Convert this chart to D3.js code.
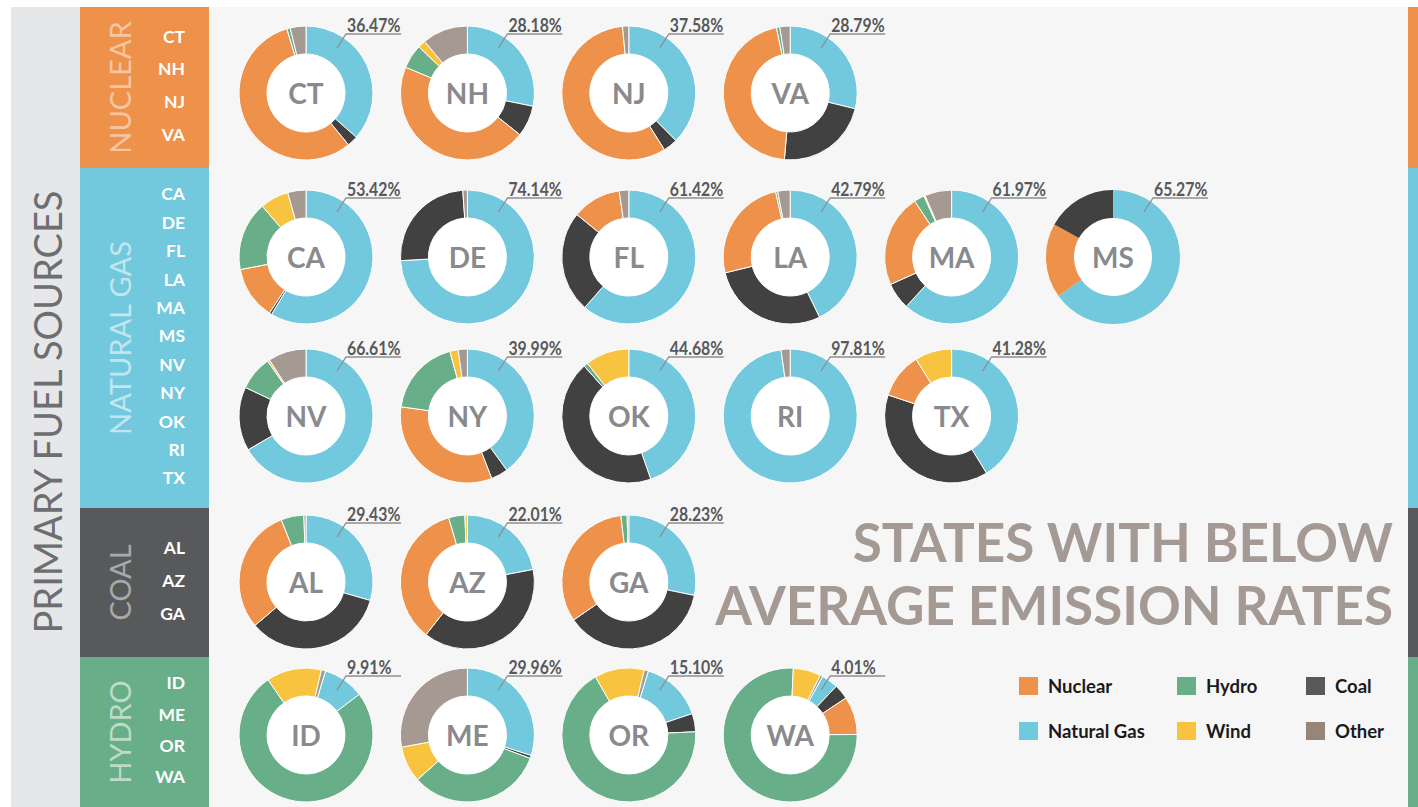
<!DOCTYPE html>
<html>
<head>
<meta charset="utf-8">
<script src="https://cdn.jsdelivr.net/npm/d3@7"></script>
<style>
  body { margin: 0; background: #fff; }
  svg { display: block; }
</style>
</head>
<body>
<div id="chart"></div>
<script>
// one entry per state, in drawing order
const states     = ['CT','NH','NJ','VA','CA','DE','FL','LA','MA','MS','NV','NY','OK','RI','TX','AL','AZ','GA','ID','ME','OR','WA'];
const primary    = ['Nuclear','Nuclear','Nuclear','Nuclear',
                    'Natural Gas','Natural Gas','Natural Gas','Natural Gas','Natural Gas','Natural Gas',
                    'Natural Gas','Natural Gas','Natural Gas','Natural Gas','Natural Gas',
                    'Coal','Coal','Coal','Hydro','Hydro','Hydro','Hydro'];
const gasLabel   = [36.47, 28.18, 37.58, 28.79, 53.42, 74.14, 61.42, 42.79, 61.97, 65.27, 66.61, 39.99, 44.68, 97.81, 41.28, 29.43, 22.01, 28.23, 9.91, 29.96, 15.10, 4.01];

// generation mix (%)
const naturalGas = [36.47, 28.18, 37.58, 28.79, 58.6, 74.14, 61.42, 42.79, 61.97, 65.27, 66.61, 39.99, 44.68, 97.81, 41.28, 29.43, 22.01, 28.23, 9.91, 29.96, 15.10, 4.01];
const coal       = [2.6, 7.5, 3.5, 22.6, 0.6, 24.76, 24.5, 28.4, 6.5, 17, 15.4, 4.1, 43.7, 0, 38.8, 34.3, 38.6, 37.2, 0, 0.7, 4.4, 3.6];
const nuclear    = [56.3, 45.6, 57.4, 45.3, 12.8, 0, 11.8, 25.3, 22.5, 18, 0, 33.1, 0, 0, 11, 30.2, 34.9, 32.7, 0, 0, 0, 9.2];
const hydro      = [0.8, 5.8, 0, 0.8, 16.7, 0, 0, 0.5, 2.5, 0, 8.3, 18.6, 1.0, 0, 0, 5.5, 3.9, 1.5, 75.8, 32.7, 67.5, 75.8];
const wind       = [0, 1.9, 0, 0, 6.9, 0, 0, 0, 0.3, 0, 0.5, 2.0, 10.6, 0, 8.9, 0, 0.6, 0, 13.3, 8.7, 12, 6.7];
const other      = [3.8, 11, 1.5, 2.5, 4.4, 1.1, 2.3, 3, 6.5, 0, 9.2, 2.2, 0, 2.19, 0, 0.5, 0, 0.4, 1.0, 27.9, 1.0, 0.6];
const rotation   = [0, 0, 0, 0, 0, 0, 0, 0, 0, 0, 0, 0, 0, 0, 0, 0, 0, 0, 17, 0, 17, 29]; // degrees

const groups = ['Nuclear', 'Natural Gas', 'Coal', 'Hydro'];
const rows = [
  ['CT','NH','NJ','VA'],
  ['CA','DE','FL','LA','MA','MS'],
  ['NV','NY','OK','RI','TX'],
  ['AL','AZ','GA'],
  ['ID','ME','OR','WA']
];

const fuelOrder = ['Natural Gas', 'Coal', 'Nuclear', 'Hydro', 'Wind', 'Other'];
const orderOverride = { MS: ['Natural Gas', 'Nuclear', 'Coal', 'Hydro', 'Wind', 'Other'] };
const legendCols = [['Nuclear', 'Natural Gas'], ['Hydro', 'Wind'], ['Coal', 'Other']];

const width = 1418;
const height = 807;
const bandTop = [7, 168, 508, 657];
const bandBottom = [168, 508, 657, 807];
const rowY = [93, 257, 416, 582, 735];
const outerR = 67;
const innerR = 39;

const color = d3.scaleOrdinal()
  .domain(['Nuclear', 'Natural Gas', 'Hydro', 'Coal', 'Wind', 'Other'])
  .range(['#ee914b', '#72c8dc', '#68ae89', '#414142', '#f8c43f', '#a69991']);
const bandColor = d3.scaleOrdinal().domain(groups).range(['#ee914b', '#72c8dc', '#58595b', '#68ae89']);
const bandText = d3.scaleOrdinal().domain(groups).range(['#f7c6a1', '#c2e6ef', '#a7a9ac', '#bcdcc8']);
const legendColor = d3.scaleOrdinal()
  .domain(['Nuclear', 'Natural Gas', 'Hydro', 'Coal', 'Wind', 'Other'])
  .range(['#ee914b', '#72c8dc', '#68ae89', '#58595b', '#f8c43f', '#968578']);

const series = {
  'Natural Gas': naturalGas, 'Coal': coal, 'Nuclear': nuclear,
  'Hydro': hydro, 'Wind': wind, 'Other': other
};

const x = d3.scaleLinear().domain([0, 5]).range([306, 1113]);

const svg = d3.select('#chart').append('svg')
  .attr('width', width)
  .attr('height', height);

// backgrounds
svg.append('rect').attr('width', width).attr('height', height).attr('fill', '#fff');
svg.append('rect').attr('x', 209).attr('y', 7).attr('width', 1199).attr('height', height - 7).attr('fill', '#f6f6f6');
svg.append('rect').attr('x', 11).attr('y', 7).attr('width', 69).attr('height', height - 7).attr('fill', '#e6e7e8');

svg.append('text')
  .attr('transform', 'translate(62,412) rotate(-90)')
  .attr('text-anchor', 'middle')
  .style('font-family', 'Lato, sans-serif')
  .style('font-size', '38px')
  .style('fill', '#6d6e71')
  .text('PRIMARY FUEL SOURCES');

// fuel bands on the left and the thin strip on the right
groups.forEach((g, i) => {
  const top = bandTop[i];
  const h = bandBottom[i] - bandTop[i];
  svg.append('rect').attr('x', 80).attr('y', top).attr('width', 129).attr('height', h).attr('fill', bandColor(g));
  svg.append('rect').attr('x', 1408).attr('y', top).attr('width', 10).attr('height', h).attr('fill', bandColor(g));

  svg.append('text')
    .attr('transform', `translate(131,${top + h / 2}) rotate(-90)`)
    .attr('text-anchor', 'middle')
    .style('font-family', 'Lato, sans-serif')
    .style('font-size', '29px')
    .style('fill', bandText(g))
    .text(g.toUpperCase());

  const list = states.filter((s, j) => primary[j] === g);
  const step = Math.min(32.7, (h - 56) / (list.length - 1));
  const mid = top + h / 2 - 2;
  svg.selectAll(null)
    .data(list)
    .enter().append('text')
    .attr('x', 185)
    .attr('y', (d, k) => mid + (k - (list.length - 1) / 2) * step)
    .attr('dy', '0.36em')
    .attr('text-anchor', 'end')
    .style('font-family', 'Lato, sans-serif')
    .style('font-weight', 700)
    .style('font-size', '17.5px')
    .style('fill', '#fff')
    .text(d => d);
});

// donuts
const arc = d3.arc().innerRadius(innerR).outerRadius(outerR);

rows.forEach((row, r) => {
  row.forEach((st, c) => {
    const i = states.indexOf(st);
    const order = orderOverride[st] || fuelOrder;
    const slices = order.map(f => ({ fuel: f, value: series[f][i] }));
    const a0 = rotation[i] * Math.PI / 180;
    const pie = d3.pie().sort(null).value(d => d.value).startAngle(a0).endAngle(a0 + 2 * Math.PI);

    const g = svg.append('g').attr('transform', `translate(${x(c)},${rowY[r]})`);
    g.append('circle').attr('r', innerR).attr('fill', '#fff');
    g.selectAll('path')
      .data(pie(slices).filter(d => d.data.value > 0))
      .enter().append('path')
      .attr('d', arc)
      .attr('fill', d => color(d.data.fuel))
      .attr('stroke', st === 'MS' ? 'none' : '#fff')
      .attr('stroke-width', 1);

    g.append('text')
      .attr('y', 1)
      .attr('dy', '0.36em')
      .attr('text-anchor', 'middle')
      .style('font-family', 'Lato, sans-serif')
      .style('font-weight', 700)
      .style('font-size', '28px')
      .style('fill', '#898a8d')
      .text(st);

    g.append('polyline')
      .attr('points', [[31, -45], [40, -59], [95, -59]])
      .style('fill', 'none')
      .style('stroke', '#8f8f8f')
      .style('stroke-width', '1.3px');

    const label = gasLabel[i].toFixed(2) + '%';
    g.append('text')
      .attr('x', 41)
      .attr('y', -61)
      .attr('textLength', label.length * 8.9)
      .attr('lengthAdjust', 'spacingAndGlyphs')
      .style('font-family', 'Lato, sans-serif')
      .style('font-weight', 700)
      .style('font-size', '19.5px')
      .style('fill', '#58595b')
      .text(label);
  });
});

// title
svg.selectAll('.title')
  .data(['STATES WITH BELOW', 'AVERAGE EMISSION RATES'])
  .enter().append('text')
  .attr('class', 'title')
  .attr('x', 1393)
  .attr('y', (d, i) => 562 + i * 63)
  .attr('text-anchor', 'end')
  .style('font-family', 'Lato, sans-serif')
  .style('font-weight', 700)
  .style('font-size', '53px')
  .style('fill', '#a59a93')
  .text(d => d);

// legend
legendCols.forEach((col, ci) => {
  col.forEach((f, ri) => {
    const lx = [1019, 1177, 1306][ci];
    const ly = 686 + ri * 45;
    svg.append('rect')
      .attr('x', lx).attr('y', ly - 9)
      .attr('width', 19).attr('height', 18)
      .attr('fill', legendColor(f));
    svg.append('text')
      .attr('x', lx + 29).attr('y', ly)
      .attr('dy', '0.36em')
      .style('font-family', 'Lato, sans-serif')
      .style('font-weight', 700)
      .style('font-size', '18.5px')
      .style('fill', '#1a1a1a')
      .text(f);
  });
});
</script>
</body>
</html>
